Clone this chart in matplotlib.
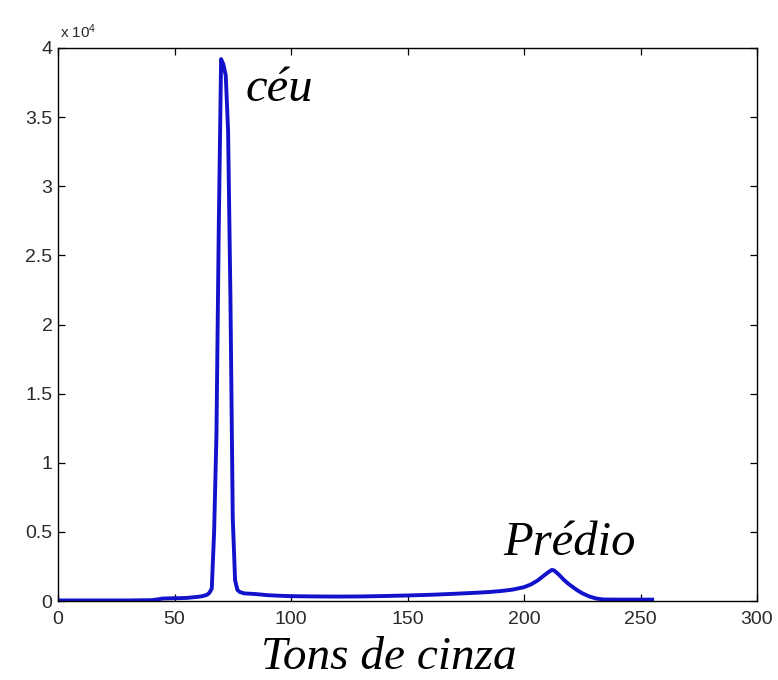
import numpy as np
import matplotlib
matplotlib.use('Agg')
import matplotlib.pyplot as plt

# gray-level histogram (level, pixel count)
gray = [0, 10, 20, 30, 40, 43, 45, 50, 55, 60, 62, 64, 65, 66, 67, 68, 69,
        70, 71, 72, 73, 74, 75, 76, 77, 78, 80, 85, 90, 95, 100, 110, 120,
        130, 140, 150, 160, 170, 175, 180, 185, 190, 195, 200, 203, 206,
        209, 211, 212, 213, 215, 217, 219, 221, 223, 225, 228, 231, 234,
        240, 250, 255]
counts = [40, 40, 40, 40, 60, 120, 180, 200, 220, 300, 350, 450, 600, 900,
          5000, 12000, 27000, 39200, 38800, 38000, 34000, 22000, 6000, 1500,
          800, 650, 550, 500, 420, 380, 350, 330, 320, 330, 360, 400, 450,
          520, 560, 600, 650, 720, 820, 1000, 1200, 1500, 1900, 2150, 2250,
          2200, 1900, 1550, 1250, 1000, 760, 560, 330, 180, 110, 100, 100, 100]

xticks = [0, 50, 100, 150, 200, 250, 300]
yticks = [0, 5000, 10000, 15000, 20000, 25000, 30000, 35000, 40000]

plt.rcParams['font.family'] = ['Liberation Sans', 'DejaVu Sans']
plt.rcParams['mathtext.default'] = 'regular'

fig = plt.figure(figsize=(7.78, 6.80), dpi=100)
ax = fig.add_axes([58/778, 79/680, 699/778, 553/680])

ax.plot(gray, counts, color='#1212cc', lw=2.8, solid_joinstyle='round')

ax.set_xlim(0, 300)
ax.set_ylim(0, 40000)
ax.set_xticks(xticks)
ax.set_xticklabels([str(t) for t in xticks])
ax.set_yticks(yticks)
ax.set_yticklabels(['%g' % (t / 1e4) for t in yticks])
ax.tick_params(direction='in', length=5, width=0.9, top=True, right=True,
               labelsize=14, labelcolor='#2a2a2a')
ax.tick_params(axis='y', pad=4)
ax.tick_params(axis='x', pad=7)
for s in ax.spines.values():
    s.set_linewidth(1.0)

ax.text(0.003, 1.012, r'x 10$^{4}$', transform=ax.transAxes, fontsize=11,
        color='#2a2a2a', ha='left', va='bottom')

serif = ['Liberation Serif', 'DejaVu Serif']
ax.text(80.5, 36200, 'céu', family=serif, style='italic', fontsize=35,
        ha='left', va='baseline')
ax.text(191, 3330, 'Prédio', family=serif, style='italic', fontsize=35,
        ha='left', va='baseline')
fig.text(389/778, 11/680, 'Tons de cinza', family=serif, style='italic',
         fontsize=34, ha='center', va='baseline')

fig.savefig('out.png', dpi=100)
